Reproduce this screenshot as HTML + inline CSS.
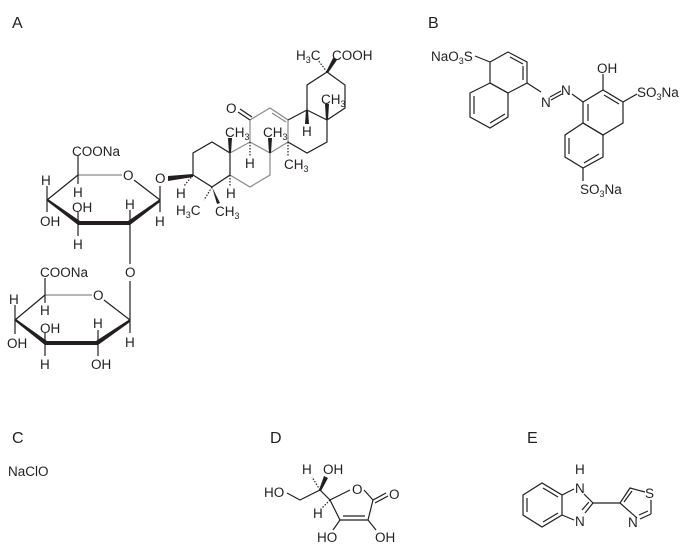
<!DOCTYPE html>
<html><head><meta charset="utf-8"><style>
html,body{margin:0;padding:0;background:#fff}
svg{display:block}
text{font-family:"Liberation Sans",Arial,sans-serif;font-size:13.5px;fill:#231f20}
.L{font-size:16px}
line,polyline,polygon{stroke:#231f20;stroke-width:1.2;fill:none}
.g{stroke:#8a8a8a}
.b{stroke-width:4}
.w{fill:#231f20;stroke:none}
.h{stroke-dasharray:1.5 1.5}
</style></head><body>
<svg width="687" height="551" viewBox="0 0 687 551">
<text class="L" x="12" y="28">A</text>
<text class="L" x="428" y="28">B</text>
<text class="L" x="12" y="443">C</text>
<text class="L" x="270" y="443">D</text>
<text class="L" x="527" y="443">E</text>
<text x="8" y="476">NaClO</text>

<!-- upper sugar -->
<line class="g" x1="78" y1="175" x2="122" y2="175"/>
<text x="123" y="180">O</text>
<line x1="134" y1="180" x2="160" y2="200"/>
<polygon class="w" points="160,199 160,202 130,225 128,221"/>
<line class="b" x1="130" y1="223" x2="78" y2="223"/>
<polygon class="w" points="80,221 78,225 47,201 48,199"/>
<line x1="47" y1="200" x2="78" y2="175"/>
<line x1="78" y1="175" x2="78" y2="156"/>
<text x="72" y="156">COONa</text>
<line x1="78" y1="175" x2="78" y2="184"/><text x="73" y="197">H</text>
<line x1="47" y1="200" x2="47" y2="186"/><text x="41" y="185">H</text>
<line x1="47" y1="200" x2="47" y2="212"/><text x="40" y="226">OH</text>
<line x1="78" y1="223" x2="78" y2="212"/><text x="72" y="212">OH</text>
<line x1="78" y1="223" x2="78" y2="236"/><text x="73" y="249">H</text>
<line x1="130" y1="223" x2="130" y2="210"/><text x="125" y="209">H</text>
<line x1="130" y1="223" x2="130" y2="264"/><text x="125" y="277">O</text>
<line x1="160" y1="200" x2="160" y2="212"/><text x="155" y="226">H</text>
<line x1="160" y1="200" x2="160" y2="186"/><text x="155" y="183">O</text>
<polygon class="w" points="168,176 193,174 193,177 168,181"/>

<!-- lower sugar -->
<line class="g" x1="45" y1="295" x2="92" y2="295"/>
<text x="93" y="300">O</text>
<line x1="104" y1="300" x2="130" y2="320"/>
<polygon class="w" points="130,319 130,322 98,345 96,341"/>
<line class="b" x1="98" y1="343" x2="45" y2="343"/>
<polygon class="w" points="47,341 45,345 15,321 16,319"/>
<line x1="15" y1="320" x2="45" y2="295"/>
<line x1="130" y1="281" x2="130" y2="320"/>
<line x1="45" y1="295" x2="45" y2="278"/><text x="40" y="277">COONa</text>
<line x1="45" y1="295" x2="45" y2="303"/><text x="40" y="315">H</text>
<line x1="15" y1="320" x2="15" y2="305"/><text x="9" y="304">H</text>
<line x1="15" y1="320" x2="15" y2="334"/><text x="7" y="348">OH</text>
<line x1="45" y1="343" x2="45" y2="333"/><text x="40" y="333">OH</text>
<line x1="45" y1="343" x2="45" y2="356"/><text x="40" y="369">H</text>
<line x1="98" y1="343" x2="98" y2="330"/><text x="93" y="328">H</text>
<line x1="98" y1="343" x2="98" y2="356"/><text x="91" y="369">OH</text>
<line x1="130" y1="320" x2="130" y2="333"/><text x="125" y="347">H</text>

<!-- steroid -->
<polyline points="193,175 193,153 212,142 230,153 230,175 212,187 193,175"/>
<polyline class="g" points="230,175 250,187 270,175 270,153 250,142 230,153"/>
<polyline class="g" points="250,142 250,120 270,108 288,120 288,142 270,153"/>
<line class="g" x1="272" y1="113" x2="286" y2="122"/>
<line x1="250" y1="120" x2="238" y2="112"/><line x1="252" y1="117" x2="240" y2="109"/>
<text x="226" y="113">O</text>
<polyline points="288,120 307,110 327,120 327,142 307,153 288,142"/>
<polyline points="307,110 307,85 327,72 345,85 345,108 327,120"/>
<line class="h" x1="193" y1="175" x2="184" y2="186"/><text x="176" y="198">H</text>
<polygon class="w" points="212,187 220,203 217,204"/>
<line class="h" x1="212" y1="187" x2="204" y2="200"/>
<text x="176" y="215">H<tspan font-size="9" dy="3">3</tspan><tspan dy="-3">C</tspan></text>
<text x="215" y="216">CH<tspan font-size="9" dy="3">3</tspan></text>
<line class="h" x1="230" y1="175" x2="230" y2="187"/><text x="226" y="198">H</text>
<polygon class="w" points="229,153 231,153 232,138 228,138"/>
<text x="225" y="137">CH<tspan font-size="9" dy="3">3</tspan></text>
<line class="h" x1="250" y1="142" x2="250" y2="156"/><text x="245" y="168">H</text>
<polygon class="w" points="269,153 271,153 272,138 268,138"/>
<text x="263" y="137">CH<tspan font-size="9" dy="3">3</tspan></text>
<line class="h" x1="288" y1="142" x2="288" y2="156"/>
<text x="284" y="169">CH<tspan font-size="9" dy="3">3</tspan></text>
<polygon class="w" points="306,110 308,110 309,124 305,124"/><text x="302" y="136">H</text>
<polygon class="w" points="326,120 328,120 329,104 325,104"/>
<text x="321" y="104">CH<tspan font-size="9" dy="3">3</tspan></text>
<line class="h" x1="327" y1="72" x2="318" y2="60"/>
<polygon class="w" points="326,72 328,73 337,60 333,58"/>
<text x="296" y="60">H<tspan font-size="9" dy="3">3</tspan><tspan dy="-3">C</tspan></text>
<text x="332" y="60">COOH</text>

<!-- B -->
<text x="431" y="61">NaO<tspan font-size="9" dy="3">3</tspan><tspan dy="-3">S</tspan></text>
<polygon points="490,62 508,52 527,62 527,83 508,93 490,83"/>
<line x1="510" y1="57" x2="523" y2="64"/><line x1="523" y1="66" x2="523" y2="80"/>
<polygon points="470,93 490,83 508,93 508,117 490,128 470,117"/>
<line x1="474" y1="96" x2="474" y2="114"/><line x1="490" y1="123" x2="505" y2="114"/>
<line x1="490" y1="62" x2="475" y2="56"/>
<line x1="527" y1="83" x2="541" y2="92"/>
<text x="541" y="107">N</text><text x="561" y="95">N</text>
<line x1="550" y1="97" x2="561" y2="91"/><line x1="551" y1="100" x2="562" y2="94"/>
<line x1="572" y1="94" x2="583" y2="102"/>
<polygon points="583,102 603,90 623,102 623,123 603,135 583,123"/>
<line x1="588" y1="104" x2="588" y2="121"/><line x1="604" y1="95" x2="619" y2="104"/>
<polygon points="583,123 603,135 603,157 583,168 565,157 565,135"/>
<line x1="569" y1="138" x2="569" y2="154"/><line x1="584" y1="163" x2="599" y2="154"/>
<line x1="603" y1="90" x2="603" y2="74"/><text x="597" y="73">OH</text>
<line x1="623" y1="102" x2="637" y2="94"/>
<text x="637" y="97">SO<tspan font-size="9" dy="3">3</tspan><tspan dy="-3">Na</tspan></text>
<line x1="583" y1="168" x2="583" y2="181"/>
<text x="580" y="194">SO<tspan font-size="9" dy="3">3</tspan><tspan dy="-3">Na</tspan></text>

<!-- D -->
<text x="264" y="497">HO</text>
<polyline points="287,493 300,500 320,490 330,500"/>
<text x="302" y="474">H</text><text x="323" y="474">OH</text>
<line class="h" x1="320" y1="490" x2="312" y2="477"/>
<polygon class="w" points="319,490 321,491 328,478 324,476"/>
<polyline points="330,500 350,490"/><text x="352" y="494">O</text>
<polyline points="364,490 373,500 368,520 340,520 330,500"/>
<line x1="343" y1="516" x2="365" y2="516"/>
<line x1="373" y1="500" x2="386" y2="493"/><line x1="375" y1="503" x2="388" y2="496"/>
<text x="389" y="499">O</text>
<line class="h" x1="330" y1="500" x2="322" y2="508"/><text x="313" y="518">H</text>
<line x1="340" y1="520" x2="333" y2="530"/><text x="317" y="542">HO</text>
<line x1="368" y1="520" x2="376" y2="530"/><text x="375" y="542">OH</text>

<!-- E -->
<polygon points="523,495 542,483 562,495 562,515 542,527 523,515"/>
<line x1="527" y1="498" x2="527" y2="512"/><line x1="543" y1="522" x2="558" y2="513"/><line x1="543" y1="488" x2="558" y2="497"/>
<line x1="562" y1="495" x2="574" y2="489"/><text x="575" y="493">N</text><text x="575" y="474">H</text>
<line x1="584" y1="494" x2="593" y2="503"/>
<line x1="593" y1="503" x2="585" y2="513"/><line x1="589" y1="502" x2="582" y2="510"/>
<text x="575" y="526">N</text><line x1="562" y1="515" x2="574" y2="520"/>
<line x1="593" y1="503" x2="620" y2="503"/>
<polyline points="637,518 620,503 630,488 645,492"/>
<line x1="624" y1="502" x2="632" y2="491"/>
<text x="645" y="498">S</text>
<line x1="651" y1="500" x2="651" y2="514"/>
<line x1="651" y1="514" x2="640" y2="519"/><line x1="648" y1="511" x2="639" y2="515"/>
<text x="628" y="527">N</text>
</svg>
</body></html>
